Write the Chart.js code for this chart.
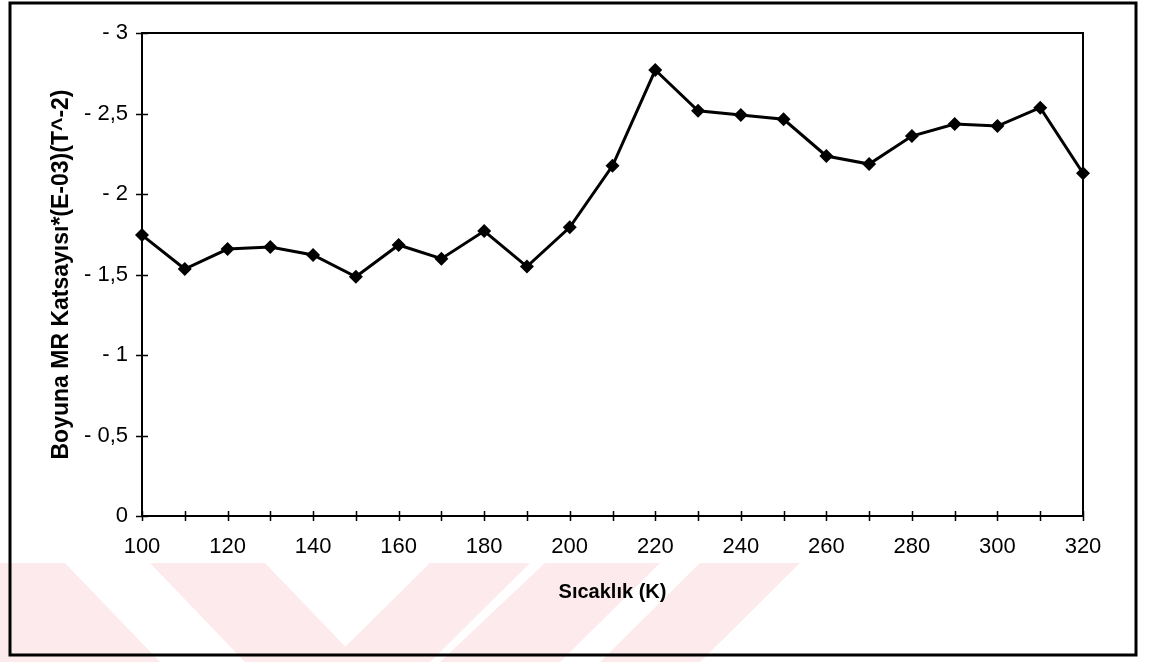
<!DOCTYPE html>
<html>
<head>
<meta charset="utf-8">
<script src="https://cdn.jsdelivr.net/npm/chart.js@4.4.0/dist/chart.umd.min.js"></script>
<style>
  html, body { margin: 0; padding: 0; background: #fff; }
</style>
</head>
<body>
<canvas id="mr" width="1157" height="662"></canvas>
<script>
// Sicaklik (K) ve boyuna MR katsayisi
const temps = [100, 110, 120, 130, 140, 150, 160, 170, 180, 190, 200, 210,
               220, 230, 240, 250, 260, 270, 280, 290, 300, 310, 320];
const mrValues = [-1.745, -1.534, -1.658, -1.671, -1.621, -1.486, -1.683, -1.598,
                  -1.770, -1.549, -1.793, -2.175, -2.770, -2.517, -2.491, -2.464,
                  -2.236, -2.186, -2.360, -2.435, -2.422, -2.536, -2.129];
const xTitle = "Sıcaklık (K)";
const yTitle = "Boyuna MR Katsayısı*(E-03)(T^-2)";

const fontFam = "'Liberation Sans', Arial, sans-serif";

function yLabel(v) {
  if (v === 0) return "0";
  return "- " + String(Math.abs(v)).replace(".", ",");
}

// white page, faint watermark and outer frame
const pagePlugin = {
  id: "page",
  beforeDraw(chart) {
    const ctx = chart.ctx;
    ctx.save();
    ctx.fillStyle = "#fff";
    ctx.fillRect(0, 0, chart.width, chart.height);
    ctx.fillStyle = "#fdeaec";
    const shapes = [
      [[0, 563], [65, 563], [160, 662], [0, 662]],
      [[150, 563], [265, 563], [360, 662], [245, 662]],
      [[330, 662], [430, 662], [530, 563], [430, 563]],
      [[440, 662], [560, 662], [660, 563], [545, 563]],
      [[600, 662], [700, 662], [800, 563], [700, 563]],
    ];
    shapes.forEach(s => {
      ctx.beginPath();
      ctx.moveTo(s[0][0], s[0][1]);
      for (let i = 1; i < s.length; i++) ctx.lineTo(s[i][0], s[i][1]);
      ctx.closePath();
      ctx.fill();
    });
    ctx.strokeStyle = "#000";
    ctx.lineWidth = 3;
    ctx.strokeRect(10, 3, 1126, 652);
    ctx.restore();
  },
  afterDraw(chart) {
    const ctx = chart.ctx;
    const a = chart.chartArea;
    const xs = chart.scales.x, ys = chart.scales.y;
    ctx.save();
    ctx.strokeStyle = "#000";
    ctx.lineWidth = 2;
    ctx.strokeRect(a.left, a.top, a.right - a.left, a.bottom - a.top);
    ctx.lineWidth = 1.5;
    ctx.beginPath();
    xs.ticks.forEach(t => {
      const px = Math.round(xs.getPixelForValue(t.value)) + 0.5;
      ctx.moveTo(px, a.bottom - 5);
      ctx.lineTo(px, a.bottom + 5);
    });
    ys.ticks.forEach(t => {
      const py = Math.round(ys.getPixelForValue(t.value)) + 0.5;
      ctx.moveTo(a.left - 6, py);
      ctx.lineTo(a.left + 6, py);
    });
    ctx.stroke();
    ctx.restore();
  }
};

const data = {
  datasets: [{
    data: temps.map((t, i) => ({ x: t, y: mrValues[i] })),
    borderColor: "#000",
    backgroundColor: "#000",
    borderWidth: 3,
    pointStyle: "rectRot",
    pointRadius: 7,
    pointBackgroundColor: "#000",
    pointBorderWidth: 0,
    tension: 0,
    clip: false
  }]
};

const config = {
  type: "line",
  data: data,
  options: {
    responsive: false,
    animation: false,
    layout: { padding: { left: 0, top: 33, right: 74, bottom: 0 } },
    plugins: {
      legend: { display: false },
      tooltip: { enabled: false }
    },
    scales: {
      x: {
        type: "linear",
        min: 100,
        max: 320,
        afterFit: s => { s.height = 146; },
        grid: { display: false, drawTicks: false },
        border: { display: false },
        ticks: {
          stepSize: 10,
          autoSkip: false,
          maxRotation: 0,
          padding: 18,
          color: "#000",
          font: { family: fontFam, size: 22 },
          callback: v => (v % 20 === 0 ? String(v) : "")
        },
        title: {
          display: true,
          text: xTitle,
          color: "#000",
          font: { family: fontFam, size: 20, weight: "bold" },
          padding: { top: 0, bottom: 58 }
        }
      },
      y: {
        type: "linear",
        min: -3,
        max: 0,
        reverse: true,
        afterFit: s => { s.width = 142; },
        grid: { display: false, drawTicks: false },
        border: { display: false },
        ticks: {
          stepSize: 0.5,
          padding: 14,
          color: "#000",
          font: { family: fontFam, size: 22 },
          callback: v => yLabel(v)
        },
        title: {
          display: true,
          text: yTitle,
          color: "#000",
          font: { family: fontFam, size: 23, weight: "bold" },
          padding: { top: 48, bottom: 0 }
        }
      }
    }
  },
  plugins: [pagePlugin]
};

let mrChart = new Chart(document.getElementById("mr").getContext("2d"), config);
</script>
</body>
</html>
